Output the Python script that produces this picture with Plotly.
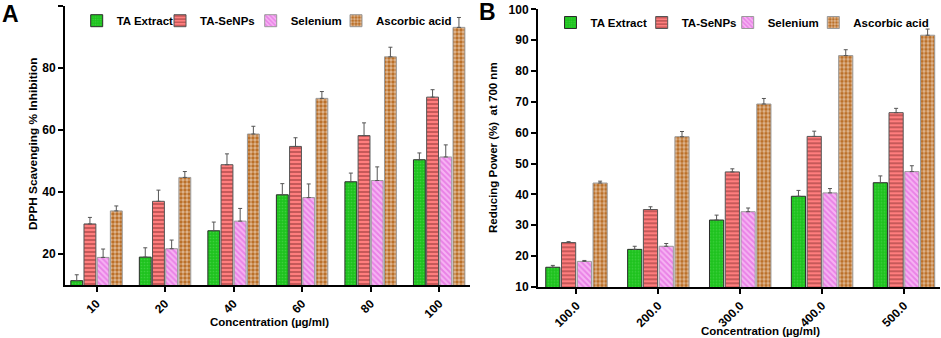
import plotly.graph_objects as go

W, H = 941, 338

# ---------------- data ----------------
conc_A = ["10", "20", "40", "60", "80", "100"]
ta_extract_A = [11.4, 19.0, 27.5, 39.1, 43.3, 50.4]
ta_extract_A_err = [1.9, 3.0, 2.8, 3.6, 2.8, 2.2]
ta_senps_A = [29.7, 37.0, 48.8, 54.7, 58.2, 70.6]
ta_senps_A_err = [2.1, 3.6, 3.5, 2.8, 4.1, 2.4]
selenium_A = [18.9, 21.7, 30.6, 38.2, 43.7, 51.3]
selenium_A_err = [2.7, 2.8, 4.1, 4.4, 4.4, 3.9]
ascorbic_A = [33.9, 44.7, 58.7, 70.2, 83.6, 93.1]
ascorbic_A_err = [1.6, 1.9, 2.5, 2.2, 3.1, 3.2]

conc_B = ["100.0", "200.0", "300.0", "400.0", "500.0"]
ta_extract_B = [16.4, 22.2, 31.7, 39.4, 43.8]
ta_extract_B_err = [0.6, 1.0, 1.6, 1.9, 2.2]
ta_senps_B = [24.4, 35.1, 47.3, 58.8, 66.5]
ta_senps_B_err = [0.3, 0.9, 1.0, 1.7, 1.4]
selenium_B = [18.3, 23.2, 34.4, 40.5, 47.4]
selenium_B_err = [0.3, 0.9, 1.2, 1.4, 1.9]
ascorbic_B = [43.7, 58.7, 69.3, 85.0, 91.6]
ascorbic_B_err = [0.6, 1.7, 1.8, 1.9, 2.0]

series_names = ["TA Extract", "TA-SeNPs", "Selenium", "Ascorbic acid"]
y_ticks_A = [20, 40, 60, 80, 100]
y_ticks_B = [10, 20, 30, 40, 50, 60, 70, 80, 90, 100]

# ---------------- styles ----------------
FONT = "Liberation Sans, Arial, sans-serif"
styles = [
    dict(color="#1FC21F", line="#2b2b2b",
         pattern=dict(shape=".", bgcolor="#1FC21F", fgcolor="#5EDB5E", size=3, solidity=0.25, fillmode="overlay")),
    dict(color="#FF7B7B", line="#555555",
         pattern=dict(shape="-", bgcolor="#FF7E7E", fgcolor="#5A1414", size=4, solidity=0.35, fillmode="overlay")),
    dict(color="#F4A6F1", line="#9a9a9a",
         pattern=dict(shape="\\", bgcolor="#F6B4F3", fgcolor="#DC50DA", size=4, solidity=0.5, fillmode="overlay")),
    dict(color="#B8691F", line="#9a9a9a",
         pattern=dict(shape=".", bgcolor="#B8691F", fgcolor="#FFFAF3", size=4, solidity=0.56, fillmode="overlay")),
]

# text-start x positions (px) of legend entries in each panel
legend_text_x_A = [116.7, 200.0, 290.7, 376.0]
legend_text_x_B = [590.5, 681.7, 767.7, 853.3]
legend_y_A = 20.7
legend_y_B = 22.5

fig = go.Figure()

def px_x(p):
    return p / W

def px_y(p):
    return 1 - p / H

legend_layouts = {}
legend_counter = [0]

def add_panel(xcats, ys, errs, xa, ya, text_xs, ly):
    for i, (name, y, e) in enumerate(zip(series_names, ys, errs)):
        s = styles[i]
        legend_counter[0] += 1
        lname = "legend" if legend_counter[0] == 1 else f"legend{legend_counter[0]}"
        legend_layouts[lname] = dict(
            orientation="h", x=px_x(text_xs[i] - 40), xanchor="left", y=px_y(ly), yanchor="middle",
            font=dict(family=FONT, size=11.5, color="black", weight="bold"),
            bgcolor="rgba(0,0,0,0)", borderwidth=0)
        fig.add_trace(go.Bar(
            x=xcats, y=y, name=name, xaxis=xa, yaxis=ya, legend=lname,
            marker=dict(color=s["color"], line=dict(color=s["line"], width=1), pattern=s["pattern"]),
            error_y=dict(type="data", array=e, arrayminus=[0] * len(e), symmetric=False,
                         color="#555555", thickness=1, width=2),
        ))

add_panel(conc_A, [ta_extract_A, ta_senps_A, selenium_A, ascorbic_A],
          [ta_extract_A_err, ta_senps_A_err, selenium_A_err, ascorbic_A_err], "x", "y",
          legend_text_x_A, legend_y_A)
add_panel(conc_B, [ta_extract_B, ta_senps_B, selenium_B, ascorbic_B],
          [ta_extract_B_err, ta_senps_B_err, selenium_B_err, ascorbic_B_err], "x2", "y2",
          legend_text_x_B, legend_y_B)

tickfont = dict(family=FONT, size=12, color="black", weight="bold")
axis_common = dict(showline=True, linecolor="black", linewidth=2, ticks="outside",
                   tickcolor="black", tickwidth=1.5, ticklen=5, showgrid=False, zeroline=False,
                   tickfont=tickfont, automargin=False)

fig.update_layout(
    width=W, height=H,
    margin=dict(l=0, r=0, t=0, b=0, autoexpand=False),
    paper_bgcolor="white", plot_bgcolor="white",
    barmode="group", bargap=0.23, bargroupgap=0.1,
    showlegend=True,
    xaxis=dict(domain=[px_x(65), px_x(470)], anchor="y", type="category",
               range=[-0.46, 5.45], tickangle=-45, **axis_common),
    yaxis=dict(domain=[px_y(285), px_y(6)], anchor="x", range=[10, 100],
               tickvals=y_ticks_A, **axis_common),
    xaxis2=dict(domain=[px_x(538), px_x(940)], anchor="y2", type="category",
                range=[-0.47, 4.44], tickangle=-45, **axis_common),
    yaxis2=dict(domain=[px_y(287), px_y(9.3)], anchor="x2", range=[10, 100],
                tickvals=y_ticks_B, **axis_common),
    **legend_layouts,
)

ann_font = dict(family=FONT, size=11.5, color="black", weight="bold")
annotations = [
    dict(text="A", x=px_x(10), y=px_y(14), font=dict(family=FONT, size=23, color="black", weight="bold")),
    dict(text="B", x=px_x(487), y=px_y(12), font=dict(family=FONT, size=23, color="black", weight="bold")),
    dict(text="DPPH Scavenging % Inhibition", x=px_x(33), y=px_y(144), textangle=-90,
         font=dict(family=FONT, size=11.8, color="black", weight="bold")),
    dict(text="Reducing Power (%)  at 700 nm", x=px_x(493), y=px_y(148), textangle=-90, font=ann_font),
    dict(text="Concentration (µg/ml)", x=px_x(269), y=px_y(322), font=ann_font),
    dict(text="Concentration (µg/ml)", x=px_x(760), y=px_y(331), font=ann_font),
]
for a in annotations:
    a.update(xref="paper", yref="paper", showarrow=False, xanchor="center", yanchor="middle")
fig.update_layout(annotations=annotations)

fig.write_html("out.html", config={"displayModeBar": False},
               post_script="document.body.style.margin='0';document.body.style.padding='0';")
